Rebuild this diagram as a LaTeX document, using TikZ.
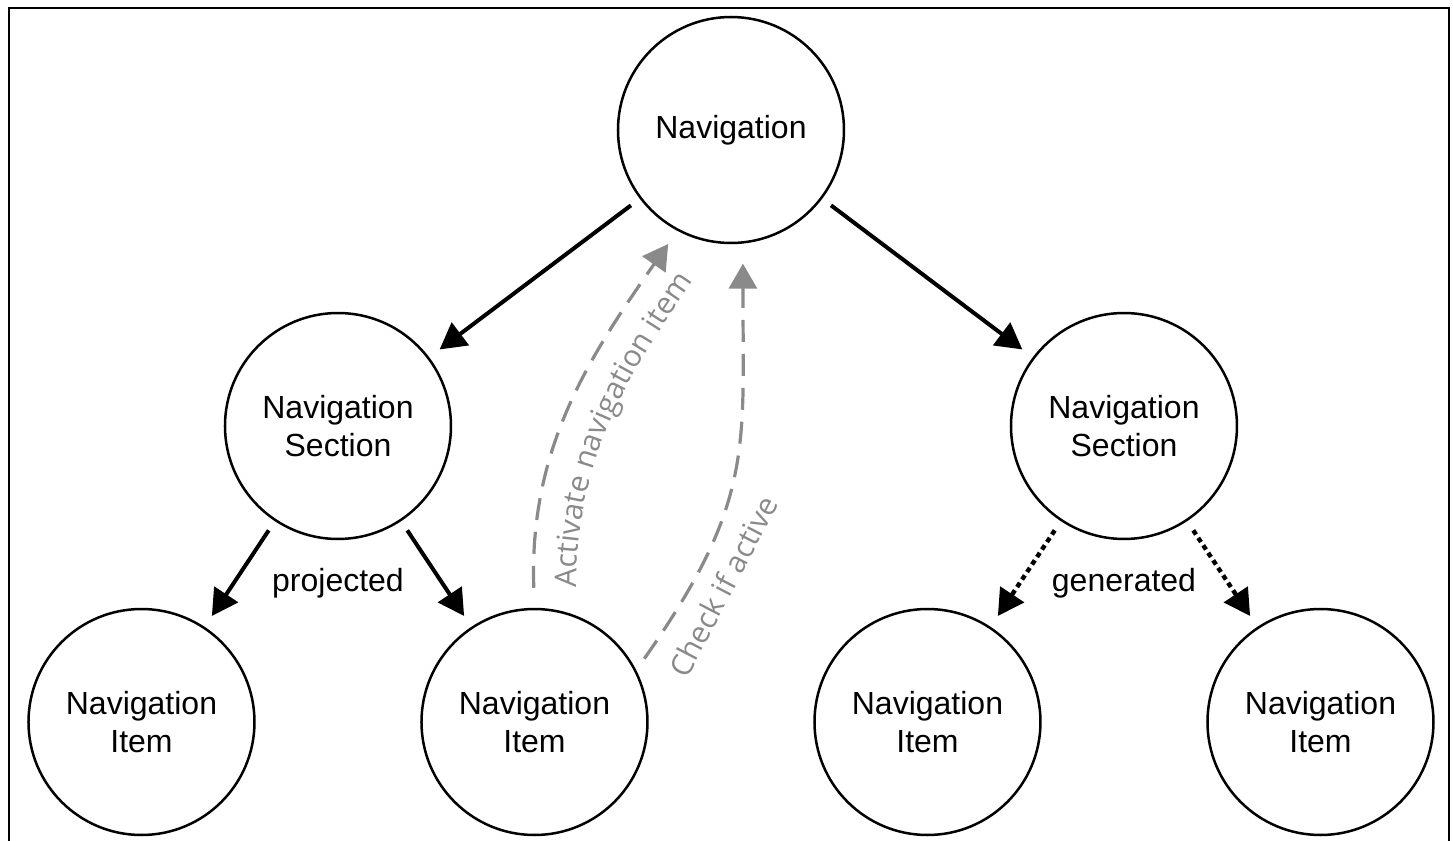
\documentclass[tikz,border=0pt]{standalone}
\usepackage{fontspec}
\setmainfont{Liberation Sans}
\newfontfamily\hintfont{Open Sans}
\usetikzlibrary{arrows.meta,positioning,decorations.text}
\definecolor{hintgray}{RGB}{138,138,138}

\begin{document}
\begin{tikzpicture}[level distance=148pt,level/.style={sibling distance=393pt/#1},
  edge from parent/.style={draw,line width=2pt,-{Triangle[length=13pt,width=14pt]},shorten <=5.5pt,shorten >=6.5pt}]
\tikzstyle{vertex}=[circle,draw,line width=1.25pt,minimum size=113pt,inner sep=1pt,align=center,font=\fontsize{16pt}{19pt}\selectfont]
\tikzstyle{generated}=[line width=2.2pt,dash pattern=on 2.5pt off 2pt]
\tikzstyle{hint}=[draw=hintgray,line width=1.6pt,dash pattern=on 11pt off 6pt,-{Triangle[length=12.5pt,width=14pt,fill=hintgray]}]
\tikzstyle{hinttext}=[text=hintgray,font=\hintfont\fontsize{15pt}{18pt}\selectfont,inner sep=8pt]
\tikzstyle{edgetext}=[font=\fontsize{16pt}{19pt}\selectfont,inner sep=0pt]
\useasboundingbox (-365.5pt,65pt) rectangle (361pt,-355.5pt);
\draw[line width=1pt] (-361pt,-356pt) -- (-361pt,61pt) -- (359pt,61pt) -- (359pt,-356pt);
\node [vertex] (nav) {Navigation}
  child {
    node [vertex] (secL) {Navigation\\Section}
    child {node [vertex] (itemA) {Navigation\\Item}}
    child {node [vertex] (itemB) {Navigation\\Item}}
  }
  child {
    node [vertex] (secR) {Navigation\\Section}
    child {node [vertex] (itemC) {Navigation\\Item} edge from parent [generated]}
    child {node [vertex] (itemD) {Navigation\\Item} edge from parent [generated]}
  };
\node [edgetext,below=14pt of secL] (proj) {projected};
\node [edgetext,below=14pt of secR] (gen) {generated};
% active item is reported back to the navigation
\draw [hint,shorten <=10pt,shorten >=8pt] (itemB.north) to[out=92,in=235] (nav.242);
\path [decorate,decoration={text along path,text color=hintgray,
    text align={left indent=10pt},
    text={|\hintfont\fontsize{15pt}{18pt}\selectfont|Activate navigation item}}]
  ([xshift=21pt]itemB.north) to[out=92,in=235] ([xshift=17pt,yshift=-12pt]nav.242);
\draw [hint,shorten <=7pt,shorten >=10pt] (itemB.27) to[out=55,in=270,looseness=1.2]
  node [hinttext,sloped,below,pos=0.22] {Check if active} (nav.276);
\end{tikzpicture}
\end{document}
